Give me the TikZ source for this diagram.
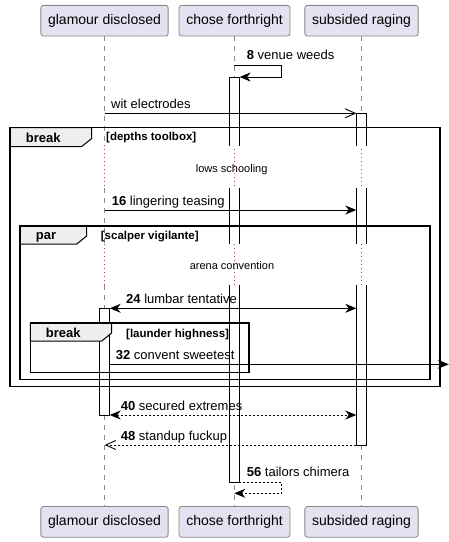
\documentclass[tikz,border=0pt]{standalone}
\usepackage{fontspec}
\setmainfont{Liberation Sans}
\usetikzlibrary{arrows.meta}
\definecolor{partfill}{HTML}{E2E2F0}
\definecolor{partline}{HTML}{888888}
\definecolor{lifegray}{HTML}{8A8A8A}
\definecolor{delayred}{HTML}{C0306A}
\definecolor{tabfill}{HTML}{EEEEEE}
\tikzset{
  part/.style={draw=partline, fill=partfill, rounded corners=2.5pt, minimum height=30.7pt,
    inner xsep=7.2pt, inner ysep=0pt, font=\fontsize{14}{16}\selectfont, line width=0.8pt},
  life/.style={draw=lifegray, dash pattern=on 5pt off 5pt, line width=0.7pt},
  dly/.style={draw=delayred, dash pattern=on 1pt off 3pt, line width=1pt},
  barfill/.style={fill=white},
  barline/.style={draw=black, line width=0.9pt},
  msg/.style={draw=black, line width=0.9pt},
  reply/.style={msg, dash pattern=on 2pt off 2pt},
  fa/.style={-{Stealth[length=11pt,width=9pt,inset=3.5pt]}},
  fab/.style={{Stealth[length=11pt,width=9pt,inset=3.5pt]}-{Stealth[length=11pt,width=9pt,inset=3.5pt]}},
  oa/.style={-{Straight Barb[length=10pt,width=9pt]}},
  mlabel/.style={anchor=base west, inner sep=0pt, font=\fontsize{13}{15}\selectfont},
  dlabel/.style={anchor=base, inner sep=0pt, font=\fontsize{11}{13}\selectfont},
  framebox/.style={draw=black, line width=1.6pt},
  tabbox/.style={draw=black, fill=tabfill, line width=1pt},
  tablabel/.style={anchor=base west, inner sep=0pt, font=\bfseries\fontsize{13}{15}\selectfont},
  cond/.style={anchor=base west, inner sep=0pt, font=\bfseries\fontsize{11.5}{13}\selectfont}
}
\begin{document}
\begin{tikzpicture}[x=1pt,y=-1pt]
\useasboundingbox (0,0) rectangle (449,542);

% participants
\node[part] (gT) at (104.5,20.7) {glamour disclosed};
\node[part] (cT) at (234.5,20.7) {chose forthright};
\node[part] (sT) at (361.5,20.7) {subsided raging};
\node[part] (gB) at (104.5,521.8) {glamour disclosed};
\node[part] (cB) at (234.5,521.8) {chose forthright};
\node[part] (sB) at (361.5,521.8) {subsided raging};

% lifelines
\foreach \x/\n in {104.7/g,234.3/c,361.3/s}{
  \draw[life] (\x,36) -- (\x,145);
  \draw[dly] (\x,145) -- (\x,188);
  \draw[life] (\x,188) -- (\x,244);
  \draw[dly] (\x,244) -- (\x,285);
  \draw[life] (\x,285) -- (\x,506.7);
}

% activation bars
% chose forthright
\fill[barfill] (229.3,77) rectangle (239.3,146);
\fill[barfill] (229.3,188) rectangle (239.3,244);
\fill[barfill] (229.3,285) rectangle (239.3,482);
\draw[barline] (229.3,146) -- (229.3,77) -- (239.3,77) -- (239.3,146);
\draw[barline] (229.3,188) -- (229.3,244) (239.3,188) -- (239.3,244);
\draw[barline] (229.3,285) -- (229.3,482) -- (239.3,482) -- (239.3,285);
% subsided raging
\fill[barfill] (356.3,113.3) rectangle (366.3,146);
\fill[barfill] (356.3,188) rectangle (366.3,244);
\fill[barfill] (356.3,285) rectangle (366.3,445);
\draw[barline] (356.3,146) -- (356.3,113.3) -- (366.3,113.3) -- (366.3,146);
\draw[barline] (356.3,188) -- (356.3,244) (366.3,188) -- (366.3,244);
\draw[barline] (356.3,285) -- (356.3,445) -- (366.3,445) -- (366.3,285);
% glamour disclosed
\draw[barline, barfill] (99.5,308.3) rectangle (109.7,415);

% frames: tabs
\draw[tabbox] (10,127.5) -- (91.7,127.5) -- (91.7,138.5) -- (81.7,146.5) -- (10,146.5) -- cycle;
\draw[tabbox] (20,226) -- (86.7,226) -- (86.7,236) -- (76.7,244) -- (20,244) -- cycle;
\draw[tabbox] (30.3,323) -- (111.7,323) -- (111.7,333) -- (101.7,341) -- (30.3,341) -- cycle;
% frames: borders
\draw[framebox] (10,127.5) rectangle (440,386.5);
\draw[framebox] (20,226) rectangle (430,379.3);
\draw[framebox] (30.3,323) rectangle (248.7,372.3);

\node[tablabel] (t1) at (25.7,142) {break};
\node[cond] (c1) at (106,140.7) {[depths toolbox]};
\node[tablabel] (t2) at (35.7,239.5) {par};
\node[cond] (c2) at (100.7,239) {[scalper vigilante]};
\node[tablabel] (t3) at (45.7,337.5) {break};
\node[cond] (c3) at (126,337.3) {[launder highness]};

% delays
\node[dlabel] (d1) at (231.7,172.3) {lows schooling};
\node[dlabel] (d2) at (232,269.3) {arena convention};

% message 8 (self)
\coordinate (m8a) at (234.3,65.6);
\coordinate (m8b) at (281.7,65.6);
\coordinate (m8c) at (281.7,77);
\coordinate (m8d) at (239.6,77);
\draw[msg, fa] (m8a) -- (m8b) -- (m8c) -- (m8d);
\node[mlabel] (l8) at (246.7,59.5) {\textbf{8} venue weeds};

% wit electrodes
\coordinate (w1) at (104.7,113.3);
\coordinate (w2) at (356.3,113.3);
\draw[msg, oa] (w1) -- (w2);
\node[mlabel] (lw) at (111,108) {wit electrodes};

% 16
\coordinate (m16a) at (104.7,210);
\coordinate (m16b) at (356.3,210);
\draw[msg, fa] (m16a) -- (m16b);
\node[mlabel] (l16) at (111.7,205) {\textbf{16} lingering teasing};

% 24
\coordinate (m24a) at (109.7,308.3);
\coordinate (m24b) at (356.3,308.3);
\draw[msg, fab] (m24a) -- (m24b);
\node[mlabel] (l24) at (126,303.3) {\textbf{24} lumbar tentative};

% 32
\coordinate (m32a) at (109.7,364.3);
\coordinate (m32b) at (448.8,364.3);
\draw[msg, fa] (m32a) -- (m32b);
\node[mlabel] (l32) at (115.7,359.3) {\textbf{32} convent sweetest};

% 40
\coordinate (m40a) at (109.7,415);
\coordinate (m40b) at (356.3,415);
\draw[reply, fab] (m40a) -- (m40b);
\node[mlabel] (l40) at (120.7,410) {\textbf{40} secured extremes};

% 48
\coordinate (m48a) at (356.3,445);
\coordinate (m48b) at (104.7,445);
\draw[reply, oa] (m48a) -- (m48b);
\node[mlabel] (l48) at (120.7,440) {\textbf{48} standup fuckup};

% 56 (self)
\coordinate (m56a) at (239.3,482.3);
\coordinate (m56b) at (281.7,482.3);
\coordinate (m56c) at (281.7,493.3);
\coordinate (m56d) at (234.3,493.3);
\draw[reply, fa] (m56a) -- (m56b) -- (m56c) -- (m56d);
\node[mlabel] (l56) at (246.7,476.7) {\textbf{56} tailors chimera};

\end{tikzpicture}
\end{document}
